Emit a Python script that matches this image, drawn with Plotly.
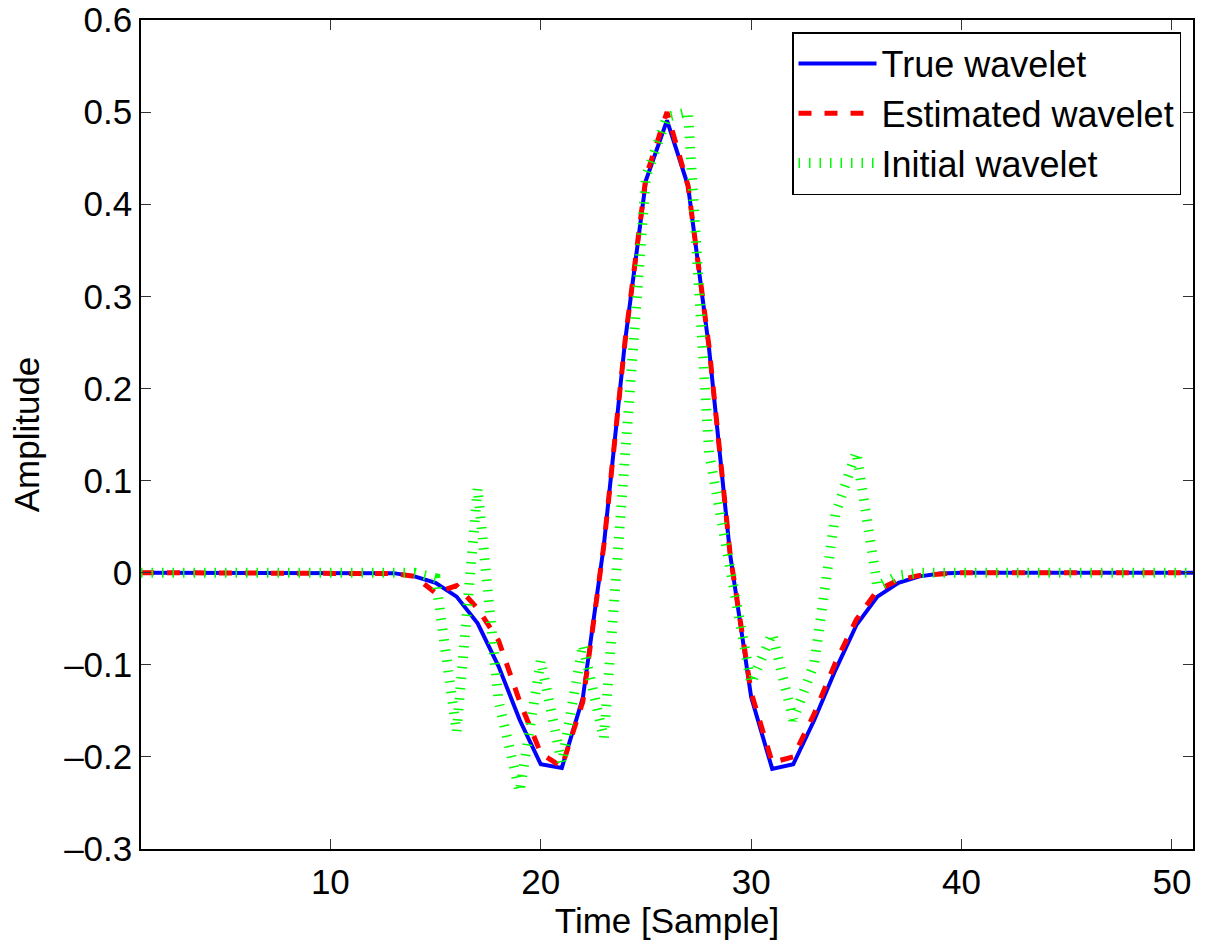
import plotly.graph_objects as go

samples = list(range(1, 52))

true_wavelet = [0]*12 + [-0.0005, -0.004, -0.011, -0.026, -0.055, -0.102, -0.16, -0.208, -0.212,
                         -0.136, 0.03, 0.25, 0.426, 0.491, 0.42, 0.243, 0.02, -0.135, -0.213,
                         -0.208, -0.16, -0.106, -0.057, -0.026, -0.011, -0.004, -0.001] + [0]*12

estimated_wavelet = [0]*12 + [-0.001, -0.004, -0.022, -0.014, -0.039, -0.074, -0.14, -0.196, -0.211,
                              -0.14, 0.03, 0.25, 0.43, 0.50, 0.42, 0.245, 0.02, -0.13, -0.206,
                              -0.20, -0.153, -0.098, -0.051, -0.019, -0.008, -0.003, -0.001] + [0]*12

initial_wavelet = [0]*12 + [0.0, 0.0, -0.006, -0.173, 0.092, -0.14, -0.238, -0.095, -0.207,
                            -0.078, -0.18, 0.14, 0.43, 0.495, 0.50, 0.13, 0.0, -0.12, -0.066,
                            -0.16, -0.098, 0.063, 0.131, -0.015, -0.003, 0.0, 0.0] + [0]*12

xticks = [10, 20, 30, 40, 50]
yticks = [-0.3, -0.2, -0.1, 0, 0.1, 0.2, 0.3, 0.4, 0.5, 0.6]

FONT = "Liberation Sans, Arial, sans-serif"
FS = 35

fig = go.Figure()
fig.add_trace(go.Scatter(x=samples, y=true_wavelet, mode="lines", name="True wavelet",
                         line=dict(color="#0000ff", width=4)))
fig.add_trace(go.Scatter(x=samples, y=estimated_wavelet, mode="lines", name="Estimated wavelet",
                         line=dict(color="#ff0000", width=5, dash="13px,13px")))
fig.add_trace(go.Scatter(x=samples, y=initial_wavelet, mode="lines", name="Initial wavelet",
                         line=dict(color="#00ff00", width=10, dash="1.5px,9px")))

axis_common = dict(showgrid=False, zeroline=False, showline=True, linecolor="black", linewidth=1.5,
                   mirror="allticks", ticks="inside", ticklen=10, tickwidth=1, tickcolor="#333",
                   automargin=False,
                   tickfont=dict(family=FONT, size=FS, color="black"))

fig.update_xaxes(range=[1, 51], tickvals=xticks, ticklabelstandoff=1,
                 title=dict(text="Time [Sample]", font=dict(family=FONT, size=FS, color="black"), standoff=0),
                 **axis_common)
fig.update_yaxes(range=[-0.3, 0.6], tickvals=yticks, ticktext=[f"{v:g}".replace("-", "\u2013") for v in yticks],
                 ticklabelstandoff=0,
                 title=dict(text="Amplitude", font=dict(family=FONT, size=FS, color="black"), standoff=14),
                 **axis_common)

fig.update_layout(
    width=1205, height=940,
    margin=dict(l=141, r=12, t=20, b=91, autoexpand=False),
    plot_bgcolor="white", paper_bgcolor="white",
    font=dict(family=FONT, size=FS, color="black"),
    legend=dict(x=0.9886, y=0.9855, xanchor="right", yanchor="top",
                bgcolor="white", bordercolor="black", borderwidth=1.5,
                font=dict(family=FONT, size=36, color="black"), itemwidth=78,
                tracegroupgap=0),
    showlegend=True,
)

fig.write_html("out.html")
